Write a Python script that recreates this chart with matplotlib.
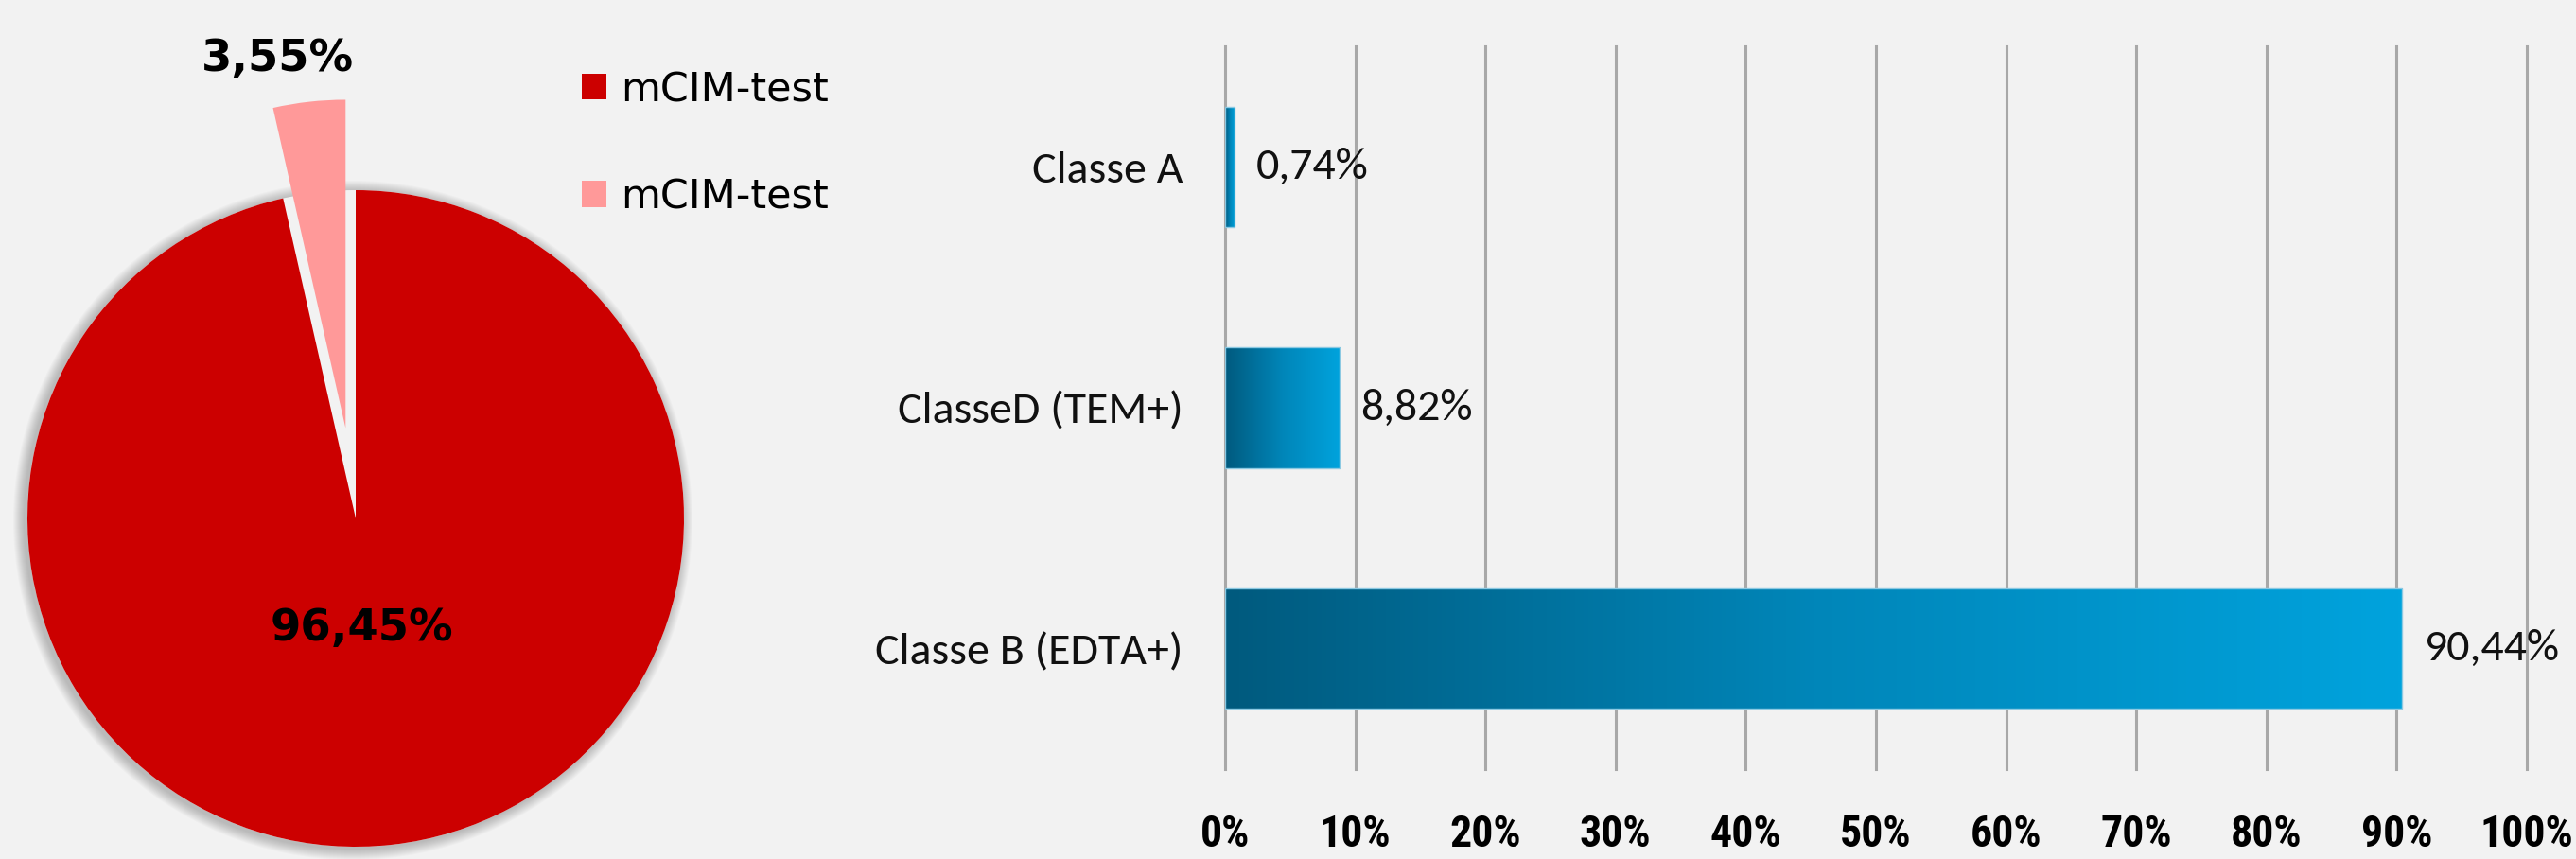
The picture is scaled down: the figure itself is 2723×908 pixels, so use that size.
import numpy as np
import matplotlib.pyplot as plt
from matplotlib import font_manager
from matplotlib.colors import LinearSegmentedColormap
from matplotlib.patches import Circle

# pie: mCIM-test results
pie_values = [96.45, 3.55]
pie_labels = ["96,45%", "3,55%"]
pie_legend = ["mCIM-test", "mCIM-test"]
pie_colors = ["#cc0000", "#ff9999"]

# bars: carbapenemase classes
classes = ["Classe A", "ClasseD (TEM+)", "Classe B (EDTA+)"]
class_values = [0.74, 8.82, 90.44]
class_labels = ["0,74%", "8,82%", "90,44%"]
x_ticks = list(range(0, 101, 10))

BG = "#f2f2f2"

installed = {f.name for f in font_manager.fontManager.ttflist}


def pick(*families):
    return next((f for f in families if f in installed), "DejaVu Sans")


LABEL_FONT = pick("Carlito", "PT Sans Narrow", "Fira Sans Condensed", "Roboto Condensed")
LABEL_SIZE = {"Carlito": 34.5, "PT Sans Narrow": 36}.get(LABEL_FONT, 32)
TICK_FONT = pick("Roboto Condensed", "PT Sans Narrow", "Fira Sans Condensed")

W, H, DPI = 2723, 908, 100
fig = plt.figure(figsize=(W / DPI, H / DPI), dpi=DPI, facecolor=BG)

# ---- left: pie, drawn in a pixel-unit axes ----
pax = fig.add_axes([0, 0, 900 / W, 1])
pax.set_facecolor(BG)
cx, cy, r = 376, 360, 347

# soft shadow behind the pie
for k in range(12):
    pax.add_patch(Circle((cx - 3, cy - 2), r + 1 + k, color="black",
                         alpha=0.018, lw=0, zorder=0))
pax.add_patch(Circle((cx, cy), r, color=BG, lw=0, zorder=0.5))

wedges, _ = pax.pie(pie_values, colors=pie_colors, startangle=90,
                    counterclock=False, explode=(0, 0.277 * r),
                    center=(cx, cy), radius=r,
                    wedgeprops=dict(linewidth=0, zorder=1))
pax.set_xlim(0, 900)
pax.set_ylim(0, H)
pax.set_aspect("equal")
pax.axis("off")

pax.text(382, H - 665, pie_labels[0], ha="center", va="center",
         fontsize=33.5, fontweight="bold", color="black")
pax.text(293, H - 63, pie_labels[1], ha="center", va="center",
         fontsize=33.5, fontweight="bold", color="black")

pax.legend(wedges, pie_legend, loc="upper left",
           bbox_to_anchor=(615 / 900, 1 - 74 / H),
           frameon=False, fontsize=31, handlelength=0.6, handleheight=0.6,
           handletextpad=0.35, labelspacing=1.65, borderaxespad=0, borderpad=0)

# ---- right: horizontal bars with gradient fill ----
ax = fig.add_axes([1295 / W, 95 / H, 1376 / W, 764 / H])
ax.set_facecolor(BG)
grad = LinearSegmentedColormap.from_list("blue_grad", ["#005a7e", "#0086b9", "#00a3dd"])
ramp = np.linspace(0, 1, 256).reshape(1, -1)

ypos = np.arange(len(classes))[::-1]
bars = ax.barh(ypos, class_values, height=0.5, color="none",
               edgecolor="#8cc9e2", linewidth=1, zorder=3)
for bar in bars:
    x0, y0 = bar.get_x(), bar.get_y()
    im = ax.imshow(ramp, cmap=grad, aspect="auto", zorder=2,
                   extent=[x0, x0 + bar.get_width(), y0, y0 + bar.get_height()])
    im.set_clip_path(bar)

for y, v, lab in zip(ypos, class_values, class_labels):
    ax.annotate(lab, (v, y), xytext=(16, 0), textcoords="offset points",
                ha="left", va="center", fontsize=LABEL_SIZE, family=LABEL_FONT,
                color="#111111")

ax.set_xlim(0, 100)
ax.set_ylim(-0.5, len(classes) - 0.5)
ax.set_xticks(x_ticks)
ax.set_xticklabels([f"{t}%" for t in x_ticks], fontsize=33, fontweight="bold",
                   family=TICK_FONT)
ax.set_yticks(ypos)
ax.set_yticklabels(classes, fontsize=LABEL_SIZE, family=LABEL_FONT, color="#111111")
ax.tick_params(axis="both", length=0)
ax.tick_params(axis="x", pad=34)
ax.tick_params(axis="y", pad=32)
ax.grid(axis="x", color="#a8a8a8", linewidth=2.2, zorder=0)
for gl in ax.xaxis.get_gridlines():
    gl.set_clip_on(False)
ax.set_axisbelow(True)
for s in ax.spines.values():
    s.set_visible(False)

fig.savefig("out.png", dpi=DPI, facecolor=BG)
